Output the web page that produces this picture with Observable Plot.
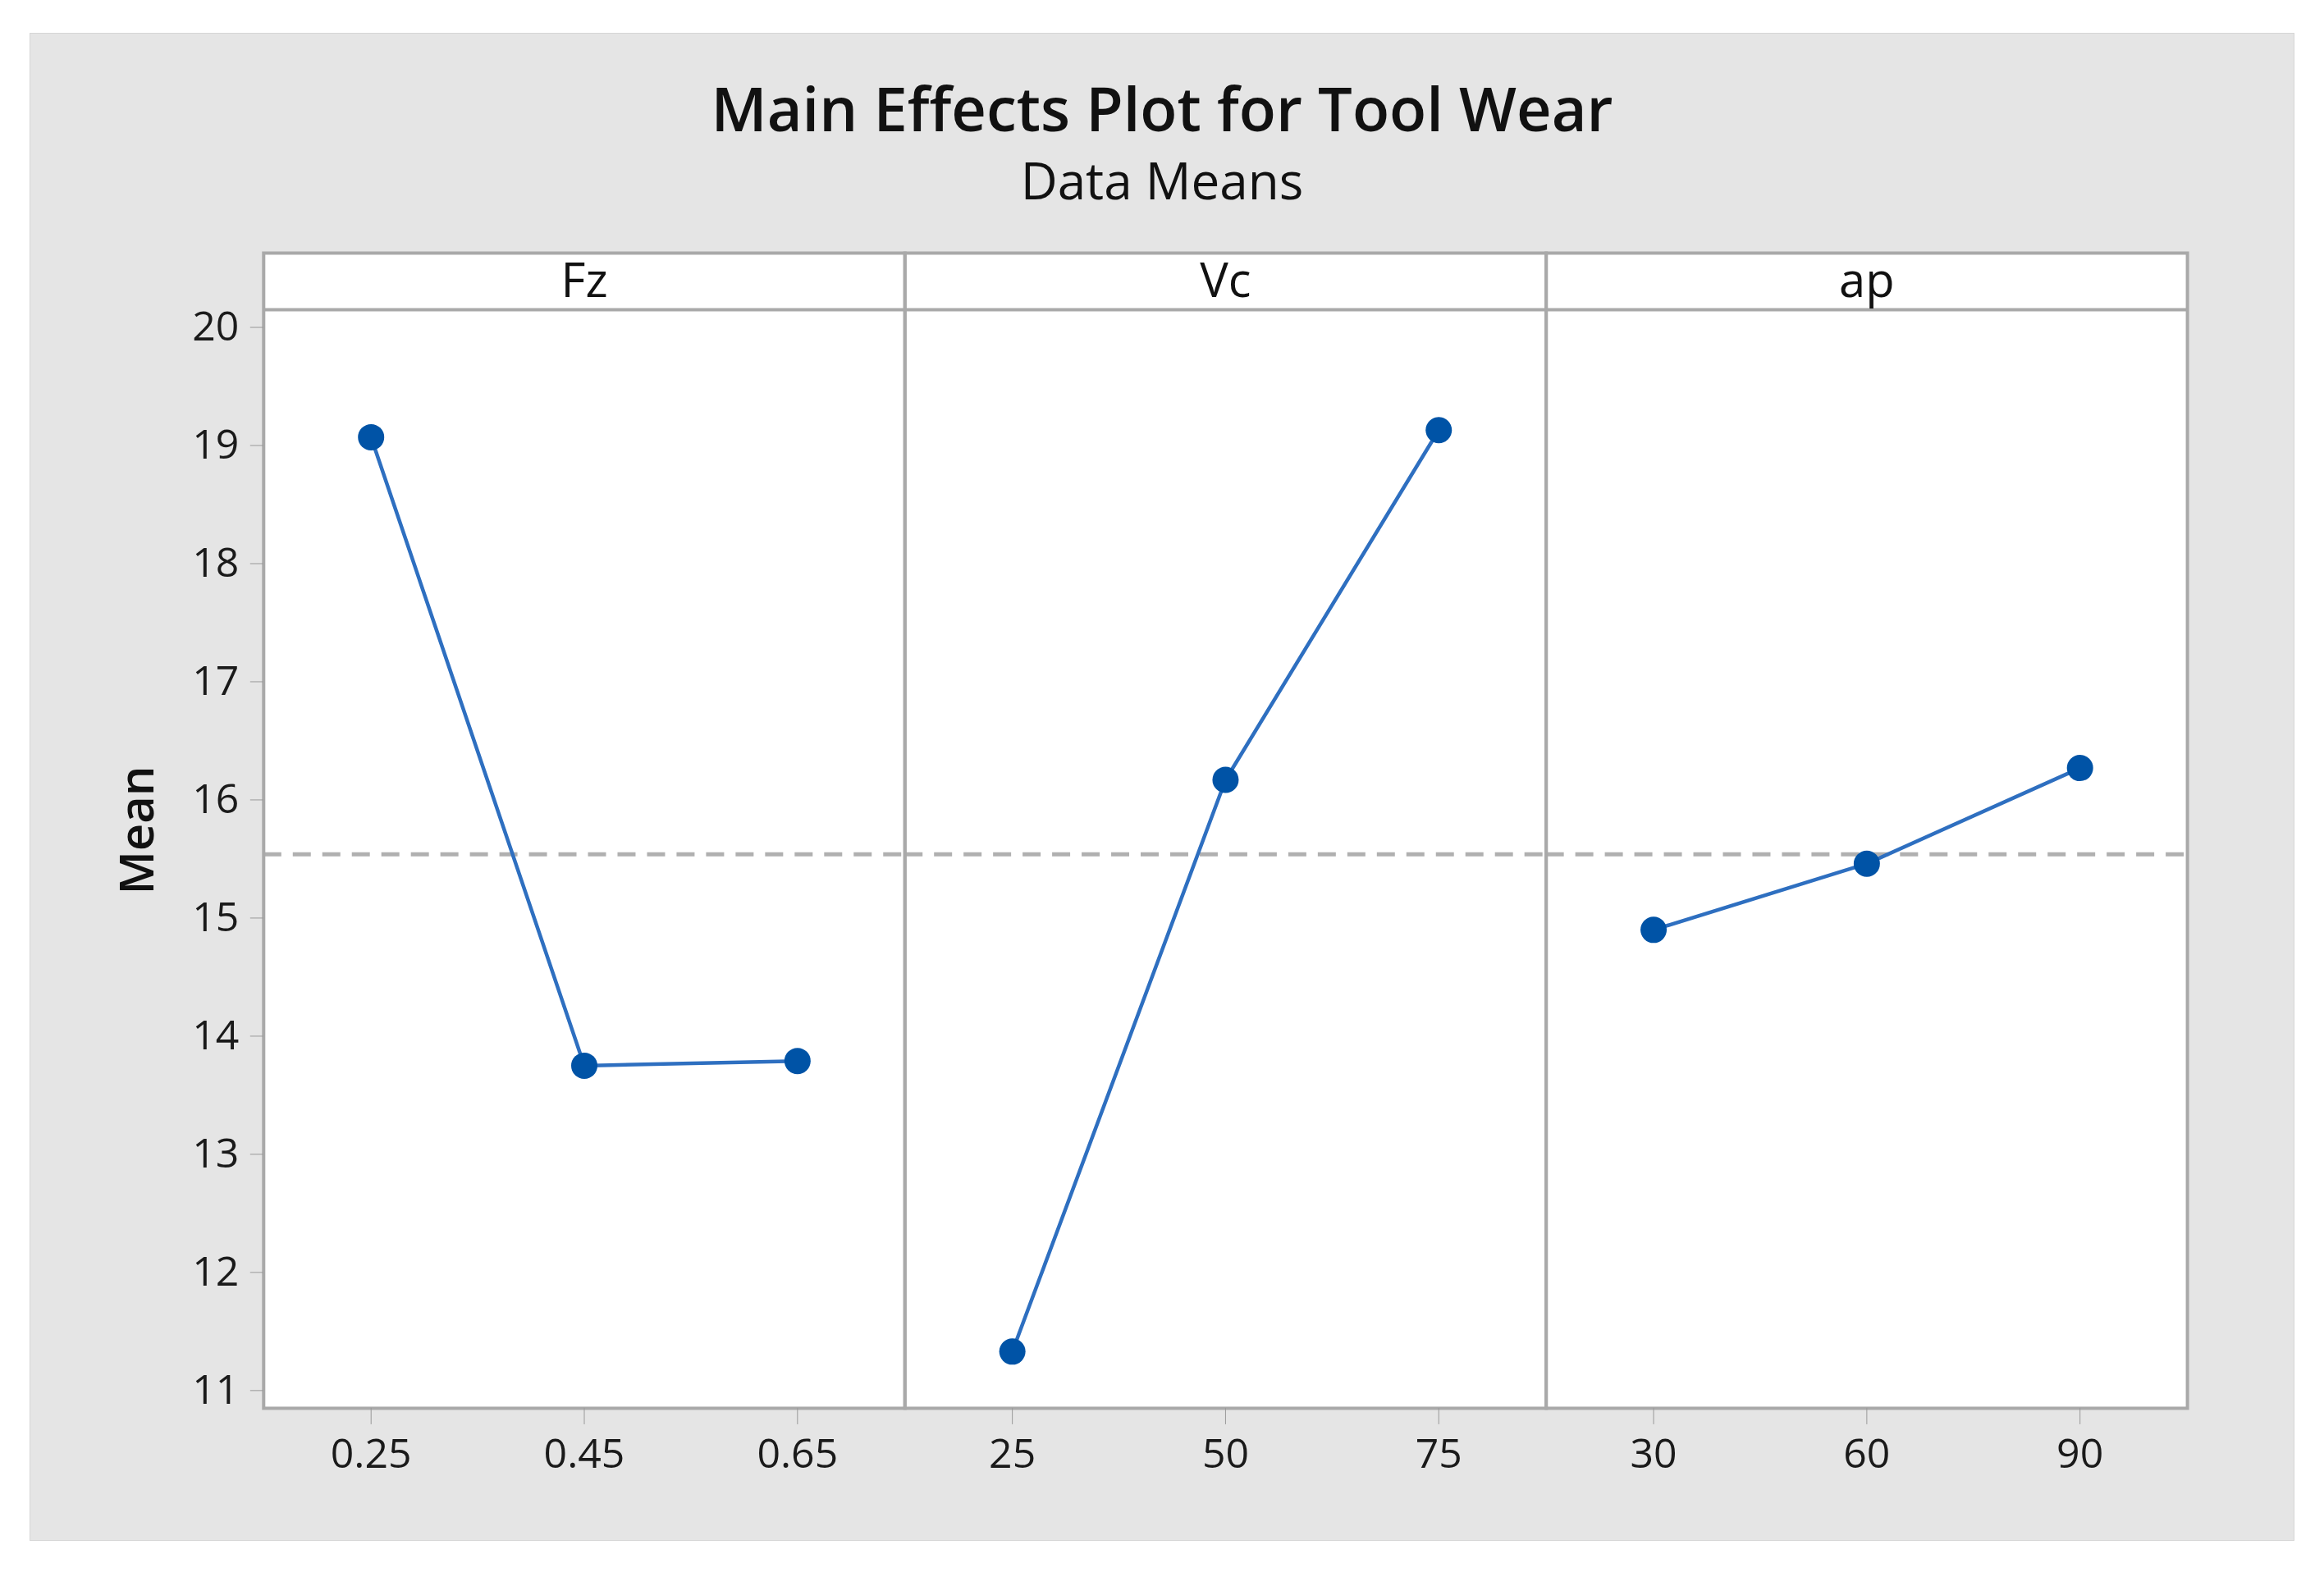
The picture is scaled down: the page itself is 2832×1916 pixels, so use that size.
<!DOCTYPE html>
<html>
<head>
<meta charset="utf-8">
<script src="https://cdn.jsdelivr.net/npm/d3@7"></script>
<script src="https://cdn.jsdelivr.net/npm/@observablehq/plot@0.6"></script>
<style>
  body { margin: 0; background: #ffffff; width: 2832px; height: 1916px; position: relative; font-family: "Open Sans", "Noto Sans", sans-serif; }
  #panel { position: absolute; left: 36px; top: 40px; width: 2760px; height: 1838px; background: #e5e5e5; border: 1px solid #d6d6d6; box-sizing: border-box; }
  #title { position: absolute; left: 0; width: 100%; top: 53px; line-height: 76px; text-align: center; font-size: 74px; font-weight: 600; color: #111; }
  #subtitle { position: absolute; left: 0; width: 100%; top: 148px; line-height: 60px; text-align: center; font-size: 62px; font-weight: 400; color: #111; }
  #chart { position: absolute; left: 0; top: 240px; }
</style>
</head>
<body>
<div id="panel">
  <div id="title">Main Effects Plot for Tool Wear</div>
  <div id="subtitle">Data Means</div>
  <div id="chart"></div>
</div>
<script>
// ---- data ----
const factors = ["Fz", "Vc", "ap"];
const fzLevels = ["0.25", "0.45", "0.65"];
const fzMeans = [19.07, 13.75, 13.79];
const vcLevels = ["25", "50", "75"];
const vcMeans = [11.33, 16.17, 19.13];
const apLevels = ["30", "60", "90"];
const apMeans = [14.90, 15.46, 16.27];
const grandMean = 15.54;
const yTicks = [11, 12, 13, 14, 15, 16, 17, 18, 19, 20];
const yDomain = [10.85, 20.15];
const yLabel = ["Mean"];

const rows = [];
[[fzLevels, fzMeans], [vcLevels, vcMeans], [apLevels, apMeans]].forEach(([lv, mv], i) => {
  lv.forEach((l, j) => rows.push({factor: factors[i], idx: j, level: l, mean: mv[j]}));
});

const stripH = 69;
const gridColor = "#a9a9a9";

const chart = Plot.plot({
  width: 2760,
  height: 1560,
  marginLeft: 284,
  marginRight: 130,
  marginTop: 96,
  marginBottom: 124,
  style: {background: "transparent", fontFamily: "'Open Sans', 'Noto Sans', sans-serif", color: "#222"},
  fx: {domain: factors, padding: 0, axis: null},
  x: {type: "point", domain: [0, 1, 2], padding: 0.5, axis: null},
  y: {domain: yDomain, axis: null},
  marks: [
    Plot.frame({fill: "white", insetTop: -stripH}),
    Plot.ruleY([grandMean], {stroke: "#b0b0b0", strokeWidth: 5, strokeDasharray: "22,14"}),
    Plot.line(rows, {fx: "factor", x: "idx", y: "mean", stroke: "#2e6fc0", strokeWidth: 4.5}),
    Plot.dot(rows, {fx: "factor", x: "idx", y: "mean", r: 16, fill: "#0053a6"}),
    Plot.ruleY([yDomain[1]], {stroke: gridColor, strokeWidth: 4}),
    Plot.frame({stroke: gridColor, strokeWidth: 4, insetTop: -stripH}),
    Plot.text(factors, {fx: d => d, text: d => d, frameAnchor: "top", lineAnchor: "middle", dy: -34, fontSize: 58, fill: "#111"}),
    Plot.axisY({ticks: yTicks, tickSize: 16, tickPadding: 14, fontSize: 50, label: null, stroke: "#999", fill: "#1a1a1a"}),
    Plot.text(yLabel, {fx: () => factors[0], text: d => d, frameAnchor: "left", textAnchor: "middle", lineAnchor: "middle", rotate: -90, dx: -153, dy: -35, fontSize: 58, fontWeight: 600, fill: "#111"}),
    Plot.axisX({tickSize: 20, tickFormat: () => "", stroke: "#999", label: null}),
    Plot.text(rows, {fx: "factor", x: "idx", text: "level", frameAnchor: "bottom", lineAnchor: "middle", dy: 57, fontSize: 50, fill: "#1a1a1a"})
  ]
});
document.getElementById("chart").appendChild(chart);
</script>
</body>
</html>
